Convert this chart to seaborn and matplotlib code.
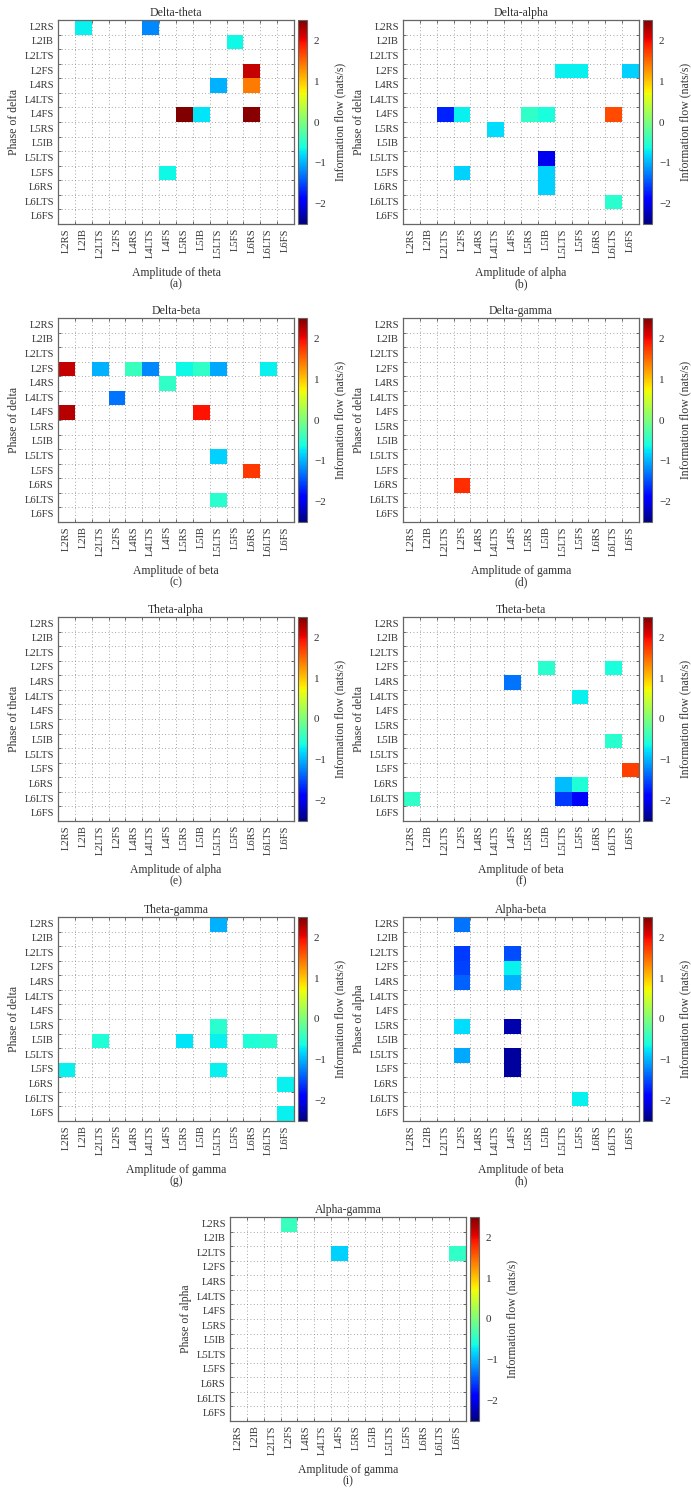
import numpy as np
import pandas as pd
import matplotlib
matplotlib.use("Agg")
import matplotlib.pyplot as plt
import seaborn as sns

# Cell groups, same order on both axes
cells = ['L2RS', 'L2IB', 'L2LTS', 'L2FS', 'L4RS', 'L4LTS', 'L4FS',
         'L5RS', 'L5IB', 'L5LTS', 'L5FS', 'L6RS', 'L6LTS', 'L6FS']

# Non-empty entries per panel: (phase cell, amplitude cell, information flow in nats/s)
delta_theta = [('L2RS', 'L2IB', -0.7), ('L2RS', 'L4LTS', -1.2), ('L2IB', 'L5FS', -0.65),
               ('L2FS', 'L6RS', 2.2), ('L4RS', 'L5LTS', -1.0), ('L4RS', 'L6RS', 1.4),
               ('L4FS', 'L5RS', 2.5), ('L4FS', 'L5IB', -0.75), ('L4FS', 'L6RS', 2.45),
               ('L5FS', 'L4FS', -0.65)]
delta_alpha = [('L2FS', 'L5LTS', -0.7), ('L2FS', 'L5FS', -0.7), ('L2FS', 'L6FS', -0.85),
               ('L4FS', 'L2LTS', -1.7), ('L4FS', 'L2FS', -0.7), ('L4FS', 'L5RS', -0.45),
               ('L4FS', 'L5IB', -0.6), ('L4FS', 'L6LTS', 1.65), ('L5RS', 'L4LTS', -0.8),
               ('L5LTS', 'L5IB', -2.0), ('L5FS', 'L2FS', -0.85), ('L5FS', 'L5IB', -0.85),
               ('L6RS', 'L5IB', -0.85), ('L6LTS', 'L6LTS', -0.5)]
delta_beta = [('L2FS', 'L2RS', 2.2), ('L2FS', 'L2LTS', -1.0), ('L2FS', 'L4RS', -0.4),
              ('L2FS', 'L4LTS', -1.2), ('L2FS', 'L5RS', -0.65), ('L2FS', 'L5IB', -0.45),
              ('L2FS', 'L5LTS', -1.05), ('L2FS', 'L6LTS', -0.7), ('L4RS', 'L4FS', -0.45),
              ('L4LTS', 'L2FS', -1.3), ('L4FS', 'L2RS', 2.25), ('L4FS', 'L5IB', 1.95),
              ('L5LTS', 'L5LTS', -0.85), ('L5FS', 'L6RS', 1.75), ('L6LTS', 'L5LTS', -0.5)]
delta_gamma = [('L6RS', 'L2FS', 1.8)]
theta_alpha = []
theta_beta = [('L2FS', 'L5IB', -0.5), ('L2FS', 'L6LTS', -0.6), ('L4RS', 'L4FS', -1.3),
              ('L4LTS', 'L5FS', -0.7), ('L5IB', 'L6LTS', -0.5), ('L5FS', 'L6FS', 1.7),
              ('L6RS', 'L5LTS', -0.95), ('L6RS', 'L5FS', -0.55), ('L6LTS', 'L2RS', -0.45),
              ('L6LTS', 'L5LTS', -1.6), ('L6LTS', 'L5FS', -1.9)]
theta_gamma = [('L2RS', 'L5LTS', -1.0), ('L5RS', 'L5LTS', -0.5), ('L5IB', 'L2LTS', -0.55),
               ('L5IB', 'L5RS', -0.75), ('L5IB', 'L5LTS', -0.7), ('L5IB', 'L6RS', -0.55),
               ('L5IB', 'L6LTS', -0.5), ('L5FS', 'L2RS', -0.7), ('L5FS', 'L5LTS', -0.7),
               ('L6RS', 'L6FS', -0.7), ('L6FS', 'L6FS', -0.7)]
alpha_beta = [('L2RS', 'L2FS', -1.3), ('L2LTS', 'L2FS', -1.6), ('L2LTS', 'L4FS', -1.5),
              ('L2FS', 'L2FS', -1.55), ('L2FS', 'L4FS', -0.7), ('L4RS', 'L2FS', -1.4),
              ('L4RS', 'L4FS', -1.0), ('L5RS', 'L2FS', -0.8), ('L5RS', 'L4FS', -2.3),
              ('L5LTS', 'L2FS', -1.05), ('L5LTS', 'L4FS', -2.35), ('L5FS', 'L4FS', -2.35),
              ('L6LTS', 'L5FS', -0.7)]
alpha_gamma = [('L2RS', 'L2FS', -0.4), ('L2LTS', 'L4FS', -0.85), ('L2LTS', 'L6FS', -0.45)]

titles = ['Delta-theta', 'Delta-alpha', 'Delta-beta', 'Delta-gamma', 'Theta-alpha',
          'Theta-beta', 'Theta-gamma', 'Alpha-beta', 'Alpha-gamma']
ylabels = ['Phase of delta', 'Phase of delta', 'Phase of delta', 'Phase of delta',
           'Phase of theta', 'Phase of delta', 'Phase of delta', 'Phase of alpha',
           'Phase of alpha']
xlabels = ['Amplitude of theta', 'Amplitude of alpha', 'Amplitude of beta',
           'Amplitude of gamma', 'Amplitude of alpha', 'Amplitude of beta',
           'Amplitude of gamma', 'Amplitude of beta', 'Amplitude of gamma']
letters = ['(a)', '(b)', '(c)', '(d)', '(e)', '(f)', '(g)', '(h)', '(i)']
panels = [delta_theta, delta_alpha, delta_beta, delta_gamma, theta_alpha,
          theta_beta, theta_gamma, alpha_beta, alpha_gamma]

W, H = 691, 1501
TXT = '#333333'


def to_matrix(entries):
    m = pd.DataFrame(np.nan, index=cells, columns=cells)
    for ph, amp, v in entries:
        m.loc[ph, amp] = v
    return m


def main():
    sns.set_style("white")
    plt.rcParams['font.family'] = ['Liberation Serif', 'DejaVu Serif']
    plt.rcParams['text.color'] = TXT
    plt.rcParams['axes.labelcolor'] = TXT
    plt.rcParams['xtick.color'] = TXT
    plt.rcParams['ytick.color'] = TXT

    fig = plt.figure(figsize=(W / 100, H / 100), dpi=100)

    # pixel layout: (axes left, axes top)
    tops = [20, 318, 617, 917]
    lefts = [58, 403]
    boxes = []
    for t in tops:
        for l in lefts:
            boxes.append((l, t))
    boxes.append((230, 1217))
    aw, ah = 236, 204

    for i, entries in enumerate(panels):
        l, t = boxes[i]
        ax = fig.add_axes([l / W, 1 - (t + ah) / H, aw / W, ah / H])
        cax = fig.add_axes([(l + aw + 4) / W, 1 - (t + ah) / H, 9 / W, ah / H])
        data = to_matrix(entries)
        sns.heatmap(data, ax=ax, cbar_ax=cax, cmap='jet', vmin=-2.5, vmax=2.5,
                    xticklabels=cells, yticklabels=cells, zorder=2)

        ax.set_axisbelow(True)
        ax.set_xticks(np.arange(1, 14), minor=True)
        ax.set_yticks(np.arange(1, 14), minor=True)
        ax.grid(which='minor', linestyle=(0, (1, 3)), color='#888888', lw=0.6)
        ax.tick_params(which='major', length=0, labelsize=7.6, pad=3)
        ax.tick_params(which='minor', length=2, direction='in', color='#555555',
                       left=True, right=True, top=True, bottom=True)
        ax.set_xticklabels(cells, rotation=90)
        ax.set_yticklabels(cells, rotation=0)
        for s in ax.spines.values():
            s.set_visible(True)
            s.set_color('#666666')
            s.set_linewidth(0.9)

        ax.set_title(titles[i], fontsize=8.5, pad=3)
        ax.set_xlabel(xlabels[i], fontsize=8.5, labelpad=7)
        ax.set_ylabel(ylabels[i], fontsize=8.5, labelpad=3)

        cb = ax.collections[0].colorbar
        cb.set_ticks([-2, -1, 0, 1, 2])
        cb.ax.set_yticklabels(['\u22122', '\u22121', '0', '1', '2'])
        cb.ax.tick_params(labelsize=8, length=0, pad=5)
        cb.outline.set_edgecolor('#666666')
        cb.outline.set_linewidth(0.8)
        cb.set_label('Information flow (nats/s)', fontsize=8.5, labelpad=6)

        fig.text((l + aw / 2) / W, 1 - (t + 264) / H, letters[i],
                 ha='center', va='center', fontsize=8.5)

    fig.savefig("out.png", dpi=100)
    plt.close(fig)


if __name__ == "__main__":
    main()
